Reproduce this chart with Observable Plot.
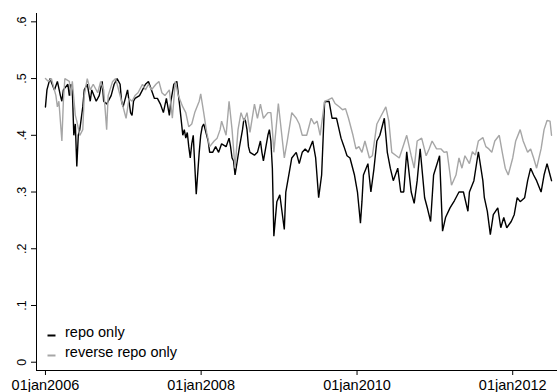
<!DOCTYPE html>
<html>
<head>
<meta charset="utf-8">
<script src="https://cdn.jsdelivr.net/npm/d3@7"></script>
<script src="https://cdn.jsdelivr.net/npm/@observablehq/plot@0.6"></script>
<style>
  html, body { margin: 0; padding: 0; background: #fff; }
  #chart { width: 557px; height: 392px; }
</style>
</head>
<body>
<div id="chart"></div>
<script>
// Weekly shares, week index counted from 01jan2006.
const repoWeek = [0,1,3,6,8,10,11,12,15,16,17,18,19,20,21,22,23,25,26,28,30,31,34,36,38,39,41,44,46,48,50,51,52,54,55,56,57,58,59,60,63,65,67,69,71,73,75,77,79,81,83,84,86,88,90,92,93,94,95,96,97,98,99,101,103,104,105,106,107,109,110,112,114,116,118,121,123,124,125,126,127,130,132,133,134,135,136,137,140,142,144,145,146,149,150,151,152,153,155,157,160,161,163,165,168,170,172,174,176,179,181,183,185,187,190,192,195,198,200,202,204,207,209,211,212,213,216,218,220,222,224,227,228,229,231,233,236,238,240,242,245,247,249,251,254,256,258,260,264,266,268,271,274,277,280,283,284,287,290,293,294,296,298,300,303,305,307,309,312,314,316,318,321,323,325,327,329,332,334,336,338,339];
const repoShare = [.45,.48,.50,.48,.495,.47,.46,.48,.49,.47,.49,.48,.40,.42,.345,.40,.41,.45,.48,.49,.46,.48,.46,.47,.495,.46,.455,.47,.49,.50,.49,.46,.45,.47,.48,.46,.44,.435,.46,.465,.47,.48,.49,.495,.48,.465,.465,.455,.44,.465,.435,.46,.49,.495,.45,.40,.41,.395,.405,.38,.36,.385,.40,.296,.37,.40,.415,.42,.41,.39,.37,.37,.38,.37,.385,.38,.395,.38,.36,.355,.33,.38,.41,.43,.425,.41,.38,.37,.365,.37,.39,.37,.355,.40,.41,.39,.342,.222,.283,.295,.234,.30,.33,.36,.37,.35,.37,.376,.37,.39,.36,.29,.33,.459,.46,.43,.43,.395,.38,.364,.36,.33,.30,.245,.283,.33,.35,.30,.34,.39,.40,.43,.40,.37,.342,.32,.342,.30,.30,.371,.30,.28,.32,.376,.29,.27,.248,.33,.364,.231,.255,.272,.285,.30,.30,.266,.30,.32,.371,.32,.29,.266,.225,.26,.272,.237,.255,.237,.248,.26,.29,.283,.29,.32,.342,.33,.32,.30,.33,.35,.33,.32];

const reverseWeek = [0,2,4,7,8,9,11,12,13,16,17,18,20,21,23,25,26,28,30,32,35,37,39,41,42,45,47,49,51,54,56,58,60,62,65,67,69,71,74,76,78,80,83,85,87,89,92,94,96,98,100,103,104,106,108,110,113,115,117,118,121,123,125,127,129,131,133,135,137,140,142,144,146,149,151,152,153,156,160,162,165,168,170,172,175,178,180,182,184,187,189,192,194,197,199,201,203,206,208,210,212,214,217,219,222,224,228,230,232,235,237,239,242,245,247,249,252,255,257,259,262,265,267,269,272,275,277,279,281,284,286,288,290,293,295,297,299,301,304,306,308,310,313,315,318,320,323,325,327,329,332,334,336,338,339];
const reverseShare = [.50,.495,.50,.47,.45,.46,.39,.46,.50,.495,.47,.495,.435,.425,.40,.41,.47,.50,.48,.49,.475,.495,.48,.41,.47,.495,.50,.48,.46,.43,.465,.46,.47,.475,.49,.48,.49,.48,.49,.495,.475,.47,.48,.43,.495,.47,.45,.44,.415,.42,.44,.46,.473,.44,.405,.38,.39,.395,.41,.425,.40,.46,.41,.342,.41,.44,.425,.44,.405,.455,.43,.455,.43,.44,.44,.41,.37,.456,.36,.39,.44,.43,.42,.40,.40,.43,.42,.425,.40,.46,.462,.466,.456,.45,.445,.447,.43,.40,.376,.38,.37,.39,.36,.364,.42,.43,.45,.425,.37,.364,.36,.376,.40,.364,.342,.39,.395,.364,.376,.39,.376,.376,.37,.371,.312,.33,.36,.342,.364,.35,.371,.365,.39,.396,.38,.376,.37,.39,.40,.37,.342,.33,.36,.39,.41,.39,.37,.376,.36,.342,.376,.41,.426,.425,.40];

const seriesNames = ["repo only", "reverse repo only"];
const seriesColors = ["#000000", "#a6a6a6"];

const xTickDates = ["2006-01-01", "2008-01-01", "2010-01-01", "2012-01-01"];
const xTickLabels = ["01jan2006", "01jan2008", "01jan2010", "01jan2012"];
const yTicks = [0, 0.1, 0.2, 0.3, 0.4, 0.5, 0.6];
const yTickLabels = ["0", ".1", ".2", ".3", ".4", ".5", ".6"];

const weekDate = w => new Date(Date.UTC(2006, 0, 1 + 7 * w));
const toRows = (weeks, shares, name) =>
  weeks.map((w, i) => ({date: weekDate(w), share: shares[i], series: name}));

const repo = toRows(repoWeek, repoShare, seriesNames[0]);
const reverse = toRows(reverseWeek, reverseShare, seriesNames[1]);

const xTicks = xTickDates.map(s => new Date(s + "T00:00:00Z"));
const xDomain = [new Date(Date.UTC(2005, 10, 20)), new Date(Date.UTC(2012, 6, 29))];
const yDomain = [-0.0146, 0.6147];
const yLabelRows = yTicks.map((v, i) => ({value: v, label: yTickLabels[i]}));

// Legend drawn inside the lower-left corner of the plot area
function legend(index, scales, values, dims) {
  const g = d3.create("svg:g")
    .attr("font-family", "'Liberation Sans', Arial, sans-serif")
    .attr("font-size", 14.5)
    .attr("text-anchor", "start");
  const left = dims.marginLeft;
  const bottom = dims.height - dims.marginBottom;
  seriesNames.forEach((name, i) => {
    const base = bottom - 33.5 + i * 20;
    g.append("line")
      .attr("x1", left + 11.5).attr("x2", left + 19.5)
      .attr("y1", base - 1).attr("y2", base - 1)
      .attr("stroke", seriesColors[i]).attr("stroke-width", 2);
    g.append("text")
      .attr("x", left + 29).attr("y", base)
      .attr("fill", "#000")
      .text(name);
  });
  return g.node();
}

const chart = Plot.plot({
  width: 557,
  height: 392,
  marginLeft: 36,
  marginRight: 0,
  marginTop: 13,
  marginBottom: 22,
  style: {fontFamily: "'Liberation Sans', Arial, sans-serif", background: "#fff", color: "#000"},
  x: {type: "utc", domain: xDomain},
  y: {domain: yDomain},
  marks: [
    Plot.ruleX([xDomain[0]], {stroke: "#000", strokeWidth: 1}),
    Plot.ruleY([yDomain[0]], {stroke: "#000", strokeWidth: 1}),
    Plot.axisX({
      ticks: xTicks,
      tickFormat: d => xTickLabels[xTicks.findIndex(t => +t === +d)],
      tickSize: 5,
      tickPadding: 4,
      fontSize: 14.5,
      label: null
    }),
    Plot.axisY({
      ticks: yTicks,
      tickFormat: () => "",
      tickSize: 5,
      label: null
    }),
    Plot.text(yLabelRows, {
      y: "value",
      text: "label",
      frameAnchor: "left",
      rotate: -90,
      dx: -14.5,
      textAnchor: "middle",
      lineAnchor: "middle",
      fontSize: 12.5,
      fill: "#000"
    }),
    Plot.line(repo, {x: "date", y: "share", stroke: seriesColors[0], strokeWidth: 1.4, strokeLinejoin: "miter"}),
    Plot.line(reverse, {x: "date", y: "share", stroke: seriesColors[1], strokeWidth: 1.4, strokeLinejoin: "miter"}),
    legend
  ]
});

document.getElementById("chart").appendChild(chart);
</script>
</body>
</html>
